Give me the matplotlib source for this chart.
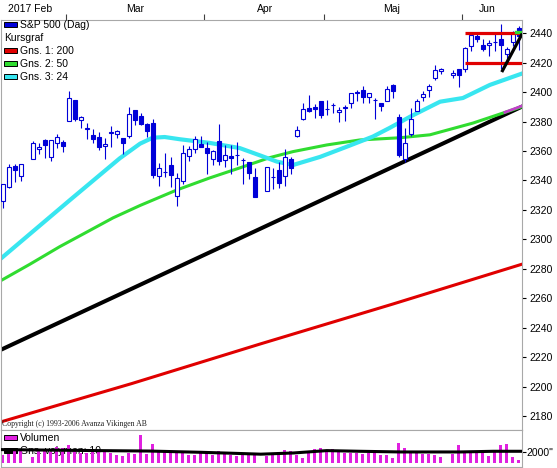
#!/usr/bin/env python3
# -*- coding: utf-8 -*-

"""S&P 500 daily candles with moving averages and volume, Avanza style."""

import numpy as np
import pandas as pd
import matplotlib
matplotlib.use("Agg")
import matplotlib.pyplot as plt
from matplotlib.patches import Rectangle
from matplotlib.transforms import blended_transform_factory

FIRST_DAY = "2017-02-14"
LAST_DAY = "2017-06-14"
HOLIDAYS = ["2017-02-20", "2017-04-14", "2017-05-29"]

OPEN = [2326.1, 2335.6, 2349.6, 2343.0, 2354.9, 2361.1, 2367.5, 2355.7, 2365.2, 2366.1,
        2380.1, 2394.8, 2380.9, 2375.2, 2370.7, 2369.8, 2363.5, 2372.5, 2371.6, 2368.6,
        2370.3, 2387.7, 2383.7, 2378.2, 2379.3, 2343.0, 2346.0, 2350.4, 2329.1, 2339.8,
        2356.5, 2361.3, 2364.8, 2362.3, 2354.8, 2366.6, 2353.8, 2356.6, 2357.2, 2353.9,
        2352.2, 2342.0, 2332.6, 2342.5, 2346.8, 2342.7, 2354.7, 2370.3, 2381.5, 2389.0,
        2389.7, 2393.7, 2388.5, 2391.1, 2386.5, 2389.8, 2392.4, 2399.9, 2401.6, 2396.8,
        2394.8, 2392.4, 2394.0, 2404.6, 2383.0, 2354.7, 2371.4, 2387.2, 2397.0, 2401.4,
        2409.5, 2414.5, 2411.7, 2415.6, 2415.7, 2431.3, 2437.8, 2431.9, 2432.0, 2434.3,
        2436.4, 2425.9, 2434.2, 2443.8]
HIGH = [2337.6, 2351.3, 2351.3, 2351.2, 2366.7, 2365.1, 2368.3, 2367.3, 2371.5, 2367.8,
        2401.0, 2394.8, 2383.9, 2378.8, 2375.1, 2373.1, 2369.1, 2376.9, 2374.4, 2368.6,
        2390.0, 2388.1, 2385.7, 2379.0, 2381.9, 2351.8, 2358.9, 2356.2, 2344.9, 2363.8,
        2363.4, 2370.4, 2370.4, 2365.9, 2360.5, 2378.4, 2364.2, 2363.8, 2366.4, 2355.2,
        2352.7, 2348.3, 2349.1, 2348.4, 2352.6, 2361.4, 2356.2, 2377.0, 2392.5, 2398.2,
        2392.1, 2394.1, 2394.5, 2392.9, 2389.8, 2391.4, 2399.3, 2401.4, 2403.9, 2399.7,
        2395.7, 2392.4, 2404.1, 2405.8, 2384.9, 2375.7, 2389.1, 2395.5, 2400.9, 2405.6,
        2418.7, 2416.7, 2415.3, 2416.0, 2430.6, 2440.2, 2439.6, 2436.2, 2435.3, 2439.3,
        2446.2, 2430.4, 2441.5, 2444.8]
LOW = [2321.4, 2334.8, 2338.9, 2339.6, 2354.9, 2358.3, 2355.1, 2352.9, 2361.9, 2359.0,
       2380.1, 2380.2, 2375.4, 2368.0, 2365.5, 2361.0, 2354.5, 2363.0, 2368.6, 2358.2,
       2368.9, 2377.8, 2377.6, 2369.7, 2341.9, 2336.5, 2342.1, 2335.7, 2322.3, 2337.6,
       2352.9, 2358.6, 2362.6, 2344.7, 2350.7, 2350.5, 2348.9, 2344.7, 2350.7, 2337.3,
       2341.2, 2329.0, 2332.5, 2334.5, 2335.1, 2336.4, 2344.5, 2369.2, 2381.2, 2386.8,
       2382.7, 2382.4, 2384.8, 2385.8, 2379.8, 2380.4, 2389.4, 2393.9, 2392.4, 2392.8,
       2381.7, 2387.2, 2393.9, 2396.1, 2356.2, 2352.7, 2370.4, 2386.9, 2393.9, 2397.0,
       2408.0, 2412.2, 2409.4, 2403.6, 2413.5, 2427.7, 2434.3, 2428.1, 2424.8, 2427.9,
       2415.7, 2420.0, 2431.3, 2428.3]
CLOSE = [2337.6, 2349.3, 2347.2, 2351.2, 2365.4, 2362.8, 2363.8, 2367.3, 2369.8, 2363.6,
         2396.0, 2381.9, 2383.1, 2375.3, 2368.4, 2363.0, 2364.9, 2372.6, 2373.5, 2365.5,
         2385.3, 2381.4, 2378.3, 2373.5, 2344.0, 2348.5, 2346.0, 2344.0, 2341.6, 2358.6,
         2361.1, 2368.1, 2362.7, 2358.8, 2360.2, 2353.0, 2357.5, 2355.5, 2357.2, 2353.8,
         2344.9, 2329.0, 2349.0, 2342.2, 2338.2, 2355.8, 2348.7, 2374.2, 2388.6, 2387.5,
         2388.8, 2384.2, 2388.3, 2391.2, 2388.1, 2389.5, 2399.3, 2399.4, 2396.9, 2399.6,
         2394.4, 2390.9, 2402.3, 2400.7, 2357.0, 2365.7, 2381.7, 2394.0, 2398.4, 2404.4,
         2415.1, 2415.8, 2412.9, 2411.8, 2430.1, 2439.1, 2436.1, 2429.3, 2433.1, 2433.8,
         2431.8, 2429.4, 2440.4, 2437.9]
VOLUME = [1470, 1590, 2180, 2180, 1000, 2180, 2350, 1940, 2770, 2650,
          3120, 2180, 1760, 1760, 2060, 2060, 2060, 1760, 1470, 1170,
          1760, 1590, 5010, 1590, 3360, 2350, 2060, 1760, 2060, 1760,
          1350, 1470, 2180, 1940, 1350, 2180, 1760, 1350, 1170, 1350,
          1590, 1590, 1170, 1590, 1940, 2350, 2180, 1470, 880, 1940,
          2530, 2650, 2350, 2530, 2350, 1760, 1760, 1760, 1590, 1760,
          1760, 1350, 1350, 880, 3530, 2650, 2180, 1760, 1590, 1590,
          1470, 1000, 1590, 3120, 2060, 1760, 1940, 1760, 1170, 2060,
          3120, 3360, 1000, 580]

# moving averages (slot position, value)
MA200_X = [-0.28, 21.5, 43.0, 65.0, 86.47]
MA200_Y = [2176, 2202, 2229, 2256, 2283]
MA50_X = [-0.28, 4.5, 9.5, 14.5, 18.4, 22.9, 29.0, 34.5, 39.5, 44.5, 48.4, 54.0,
          59.5, 66.2, 71.2, 78.4, 86.47]
MA50_Y = [2272, 2283, 2295, 2306, 2314.6, 2323, 2333.5, 2341.7, 2348.5, 2355.5,
          2359.6, 2364.1, 2367.5, 2369, 2371, 2379, 2390]
MA24_X = [-0.28, 11.3, 19.5, 22.9, 25.0, 27.0, 29.5, 34.5, 39.5, 42.9, 45.7, 48.4,
          52.9, 57.4, 61.7, 64.5, 67.9, 72.9, 76.7, 81.2, 86.47]
MA24_Y = [2287, 2327, 2355, 2365, 2369, 2369.5, 2368, 2365.5, 2362, 2357, 2352.8,
          2350.5, 2356, 2363, 2369.8, 2375.7, 2383.3, 2393.5, 2396, 2404.9, 2412.5]
VOL_MA_X = [-0.28, 16.0, 24.5, 33.0, 38.5, 43.0, 48.5, 54.0, 59.6, 66.3, 70.7,
            76.3, 81.8, 86.47]
VOL_MA_Y = [2354, 2177, 2100, 1882, 1705, 1550, 1764, 2177, 2059, 1941, 1941,
            1941, 2059, 2059]

# drawn lines
TREND_X = [-0.28, 86.47]
TREND_Y = [2225, 2390]
TREND_SHORT_X = [83.3, 86.47]
TREND_SHORT_Y = [2414.6, 2438.8]
PURPLE_X = [83.7, 86.47]
PURPLE_Y = [2386.3, 2390.5]
LEVELS = [2440, 2420]
LEVEL_START = "2017-06-01"

MONTH_LABELS = ["2017 Feb", "Mar", "Apr", "Maj", "Jun"]
MONTH_POS = [4.6, 22.0, 43.7, 64.8, 80.8]
PRICE_TICKS = list(range(2180, 2441, 20))

BLUE = "#0000d8"
RED = "#e00000"
GREEN = "#30dc30"
CYAN = "#38e6f0"
MAGENTA = "#e020e0"
FRAME = "#a8a8a8"
FONT = "Liberation Sans"

W, H = 557, 468


def fx(px):
    return px / W


def fy(py):
    return 1 - py / H


def main():
    """Draw the chart."""
    days = pd.bdate_range(FIRST_DAY, LAST_DAY)
    slots = np.arange(len(days))
    trading = ~days.isin(pd.to_datetime(HOLIDAYS))
    x = slots[trading]
    o, hi, lo, c = map(np.array, (OPEN, HIGH, LOW, CLOSE))

    plt.rcParams["font.family"] = [FONT, "DejaVu Sans"]
    fig = plt.figure(figsize=(W / 100, H / 100), dpi=100)
    ax = fig.add_axes([fx(1), fy(429.5), fx(520.5), (429.5 - 20) / H])
    axv = fig.add_axes([fx(1), fy(466.7), fx(520.5), (466.7 - 429.5) / H],
                       sharex=ax)

    # price panel
    ax.plot(MA200_X, MA200_Y, color=RED, lw=2.2, zorder=2)
    ax.plot(TREND_X, TREND_Y, color="black", lw=2.9, zorder=2)
    ax.plot(MA50_X, MA50_Y, color=GREEN, lw=2.2, zorder=2)
    ax.plot(MA24_X, MA24_Y, color=CYAN, lw=3.0, zorder=2)
    ax.plot(PURPLE_X, PURPLE_Y, color="#c040c8", lw=2.0, zorder=2.5)

    up = c >= o
    ax.vlines(x, lo, hi, color=BLUE, lw=0.8, zorder=3)
    ax.bar(x[up], (c - o)[up], bottom=o[up], width=0.72, facecolor="white",
           edgecolor=BLUE, lw=0.8, zorder=4)
    ax.bar(x[~up], (o - c)[~up], bottom=c[~up], width=0.72, facecolor=BLUE,
           edgecolor=BLUE, lw=0.8, zorder=4)

    start = slots[days.get_loc(pd.Timestamp(LEVEL_START))]
    ax.hlines(LEVELS, start, TREND_X[1], color=RED, lw=2.3, zorder=5)
    ax.plot([85.6, 86.47], [2440.6, 2440.6], color=GREEN, lw=2.4, zorder=6)
    ax.plot(TREND_SHORT_X, TREND_SHORT_Y, color="black", lw=2.3, zorder=6)

    ax.set_xlim(-0.283, 86.47)
    ax.set_ylim(2170.8, 2449.0)
    ax.yaxis.tick_right()
    ax.set_yticks(PRICE_TICKS)
    ax.tick_params(axis="y", length=2.9, width=0.8, pad=3, labelsize=7.5,
                   colors="black")

    # month boundaries on top
    months = days.month.values
    bounds = [i - 0.5 for i in range(1, len(days)) if months[i] != months[i - 1]]
    ax.xaxis.tick_top()
    ax.set_xticks(bounds)
    ax.tick_params(axis="x", length=4, width=0.8, colors="#404040",
                   labeltop=False, labelbottom=False)
    trans = blended_transform_factory(ax.transData, ax.transAxes)
    for pos, label in zip(MONTH_POS, MONTH_LABELS):
        ax.text(pos, 1 + 8.3 / 409.5, label, transform=trans, ha="center",
                va="baseline", fontsize=7.5, clip_on=False)

    for spine in ax.spines.values():
        spine.set_color(FRAME)
        spine.set_linewidth(0.8)

    # legend of price panel
    entries = [("S&P 500 (Dag)", BLUE), ("Kursgraf", None),
               ("Gns. 1: 200", RED), ("Gns. 2: 50", GREEN), ("Gns. 3: 24", CYAN)]
    for i, (label, color) in enumerate(entries):
        base = 28.3 + 13 * i
        fig.text(fx(20 if color else 4), fy(base), label, fontsize=7.5,
                 va="baseline")
        if color:
            fig.patches.append(Rectangle((fx(4), fy(base - 1)), fx(13), 5.5 / H,
                                         facecolor=color, edgecolor="black",
                                         lw=0.7, transform=fig.transFigure))
    fig.text(fx(2), fy(425.5), "Copyright (c) 1993-2006 Avanza Vikingen AB",
             family="Liberation Serif", fontsize=5.6, va="baseline",
             color="#202020", zorder=10)

    # volume panel
    axv.text(fx(20), fy(441), "Volumen", transform=fig.transFigure,
             fontsize=7.5, va="baseline", zorder=1)
    axv.text(fx(20), fy(454.3), "Gns. volymen: 10", transform=fig.transFigure,
             fontsize=7.5, va="baseline", zorder=1)
    for base, color in [(441, MAGENTA), (454.3, "black")]:
        axv.add_patch(Rectangle((fx(4), fy(base - 1)), fx(13), 5.5 / H,
                                facecolor=color, edgecolor="black", lw=0.7,
                                transform=fig.transFigure, clip_on=False,
                                zorder=1))
    axv.bar(x, VOLUME, width=0.5, color=MAGENTA, zorder=2)
    axv.plot(VOL_MA_X, VOL_MA_Y, color="black", lw=2.2, zorder=3)
    axv.set_ylim(-655, 5894)
    axv.yaxis.tick_right()
    axv.set_yticks([2000])
    axv.set_yticklabels(['2000"'])
    axv.tick_params(axis="y", length=2.9, width=0.8, pad=1, labelsize=7.5)
    axv.tick_params(axis="x", length=0, labelbottom=False, labeltop=False)
    for spine in axv.spines.values():
        spine.set_color(FRAME)
        spine.set_linewidth(0.8)

    fig.savefig("out.png", dpi=100)


if __name__ == "__main__":
    main()
